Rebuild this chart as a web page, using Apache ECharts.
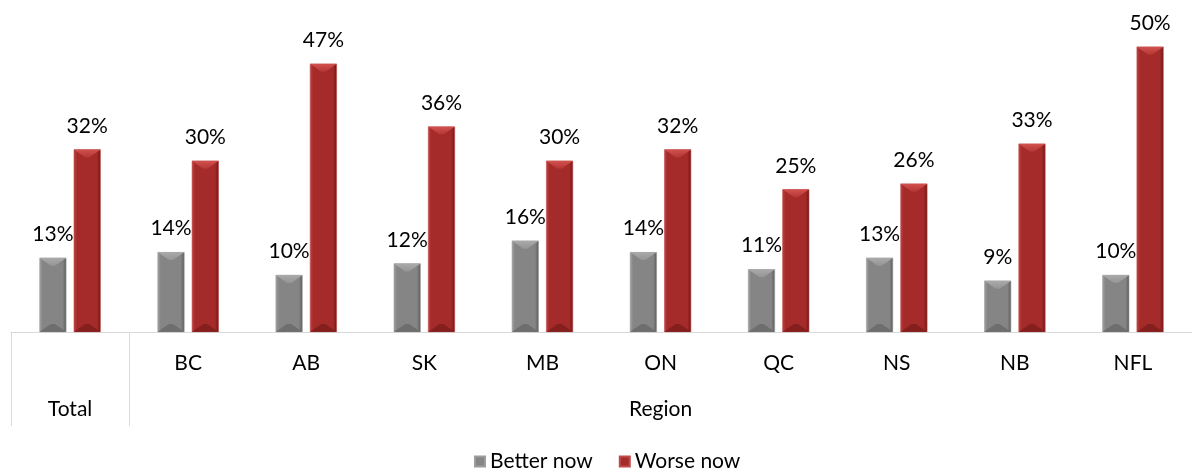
<!DOCTYPE html>
<html>
<head>
<meta charset="utf-8">
<script src="https://cdn.jsdelivr.net/npm/echarts@6/dist/echarts.min.js"></script>
<style>
  html, body { margin: 0; padding: 0; background: #ffffff; }
  #chart { width: 1192px; height: 472px; }
</style>
</head>
<body>
<div id="chart"></div>
<script>
// Categories along the axis, with the two label levels
const categories = ['Total', 'BC', 'AB', 'SK', 'MB', 'ON', 'QC', 'NS', 'NB', 'NFL'];
const regionLabels = ['', 'BC', 'AB', 'SK', 'MB', 'ON', 'QC', 'NS', 'NB', 'NFL'];
const groupLabels = ['Total', '', '', '', '', 'Region', '', '', '', ''];

// Share of respondents (%)
const betterNow = [13, 14, 10, 12, 16, 14, 11, 13, 9, 10];
const worseNow = [32, 30, 47, 36, 30, 32, 25, 26, 33, 50];

const FONT = 'Lato';
const BAR_W = 27;
const BAR_GAP = 0.27;
// centre offset of each bar within its category (two bars side by side)
const HALF_PAIR = (BAR_W * 2 + BAR_W * BAR_GAP) / 2;
const BAR_OFFSETS = [-HALF_PAIR + BAR_W / 2, HALF_PAIR - BAR_W / 2];

// palette per series: face, left edge, right edge, top bevel, bottom bevel
const PALETTE = [
  { face: '#858585', light: '#a2a2a2', dark: '#5a5a5a', top: '#aaaaaa', topEnd: '#959595', bottom: '#6a6a6a', border: '#9c9c9c' },
  { face: '#a52b2a', light: '#c24442', dark: '#6c1615', top: '#d0514e', topEnd: '#b53634', bottom: '#7f1d1c', border: '#bd4b49' }
];

function sideGradient(p) {
  return new echarts.graphic.LinearGradient(0, 0, 1, 0, [
    { offset: 0, color: p.light },
    { offset: 0.12, color: p.face },
    { offset: 0.86, color: p.face },
    { offset: 1, color: p.dark }
  ]);
}

// Bevel highlights drawn on top of each bar, positioned through the axes
function bevelRenderer(seriesIdx) {
  const p = PALETTE[seriesIdx];
  return function (params, api) {
    const idx = api.value(0);
    const top = api.coord([idx, api.value(1)]);
    const base = api.coord([idx, 0]);
    const cx = top[0] + BAR_OFFSETS[seriesIdx];
    const x0 = cx - BAR_W / 2, x1 = cx + BAR_W / 2;
    const y0 = top[1], y1 = base[1];
    const d = Math.min(8, (y1 - y0) / 3);
    const inset = 11.5;
    return {
      type: 'group',
      silent: true,
      children: [
        {
          type: 'polygon',
          shape: { points: [[x0, y1], [x1, y1], [x1 - inset, y1 - d], [x0 + inset, y1 - d]] },
          style: { fill: p.bottom, opacity: 0.85 }
        },
        {
          type: 'polygon',
          shape: { points: [[x0, y0], [x1, y0], [x1 - inset, y0 + d], [x0 + inset, y0 + d]] },
          style: {
            fill: new echarts.graphic.LinearGradient(0, 0, 0, 1, [
              { offset: 0, color: p.top },
              { offset: 1, color: p.topEnd }
            ])
          }
        }
      ]
    };
  };
}

const chart = echarts.init(document.getElementById('chart'), null, { renderer: 'canvas' });

const labelStyle = {
  show: true,
  position: 'top',
  distance: 13,
  formatter: p => p.value + '%',
  color: '#000000',
  fontFamily: FONT,
  fontSize: 21
};

chart.setOption({
  animation: false,
  textStyle: { fontFamily: FONT },
  grid: { left: 11, width: 1190, top: 46.7, bottom: 140, containLabel: false },
  legend: {
    data: ['Better now', 'Worse now'],
    left: 469,
    top: 446,
    icon: 'rect',
    itemWidth: 10,
    itemHeight: 10,
    itemGap: 26,
    textStyle: { fontFamily: FONT, fontSize: 21, color: '#000000' }
  },
  xAxis: [
    {
      type: 'category',
      data: categories,
      position: 'bottom',
      axisLine: { show: true, lineStyle: { color: '#d9d9d9', width: 1 } },
      axisTick: {
        show: true,
        length: 94,
        interval: (i) => i === 0 || i === 1,
        lineStyle: { color: '#d9d9d9', width: 1 }
      },
      axisLabel: {
        interval: 0,
        margin: 21,
        formatter: (v, i) => regionLabels[i],
        color: '#000000',
        fontFamily: FONT,
        fontSize: 21
      },
      splitLine: { show: false }
    },
    {
      type: 'category',
      data: categories,
      position: 'bottom',
      offset: 0,
      axisLine: { show: false },
      axisTick: { show: false },
      axisLabel: {
        interval: 0,
        margin: 67,
        formatter: (v, i) => groupLabels[i],
        color: '#000000',
        fontFamily: FONT,
        fontSize: 21
      },
      splitLine: { show: false }
    }
  ],
  yAxis: {
    type: 'value',
    min: 0,
    max: 50,
    show: false,
    splitLine: { show: false }
  },
  series: [
    {
      name: 'Better now',
      type: 'bar',
      xAxisIndex: 0,
      data: betterNow,
      barWidth: BAR_W,
      barGap: (BAR_GAP * 100) + '%',
      itemStyle: { color: sideGradient(PALETTE[0]), borderColor: PALETTE[0].border, borderWidth: 0.6 },
      label: labelStyle
    },
    {
      name: 'Worse now',
      type: 'bar',
      xAxisIndex: 0,
      data: worseNow,
      barWidth: BAR_W,
      barGap: (BAR_GAP * 100) + '%',
      itemStyle: { color: sideGradient(PALETTE[1]), borderColor: PALETTE[1].border, borderWidth: 0.6 },
      label: labelStyle
    },
    {
      name: 'Better now bevel',
      type: 'custom',
      xAxisIndex: 0,
      renderItem: bevelRenderer(0),
      data: betterNow.map((v, i) => [i, v]),
      encode: { x: 0, y: 1 },
      z: 3,
      silent: true,
      tooltip: { show: false }
    },
    {
      name: 'Worse now bevel',
      type: 'custom',
      xAxisIndex: 0,
      renderItem: bevelRenderer(1),
      data: worseNow.map((v, i) => [i, v]),
      encode: { x: 0, y: 1 },
      z: 3,
      silent: true,
      tooltip: { show: false }
    }
  ]
});
</script>
</body>
</html>
